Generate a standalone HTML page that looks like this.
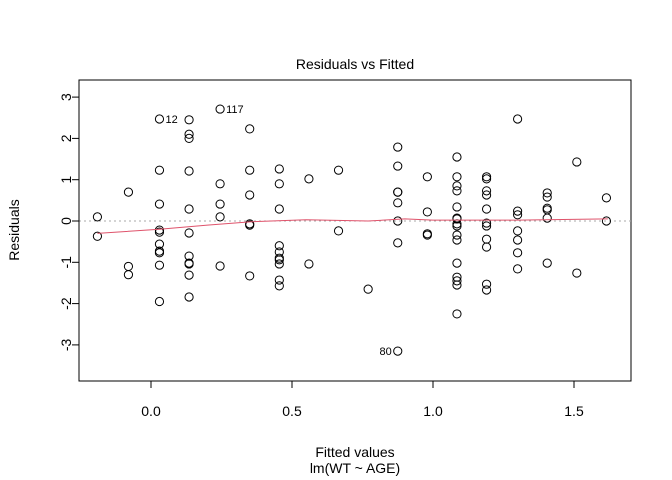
<!DOCTYPE html>
<html><head><meta charset="utf-8"><style>body{margin:0;background:#fff}svg{display:block;font-family:"Liberation Sans",sans-serif}</style></head>
<body>
<svg id="chart" width="672" height="480" viewBox="0 0 672 480">
<rect x="0" y="0" width="672" height="480" fill="#fff"/>
<text x="355" y="69" font-size="14" text-anchor="middle">Residuals vs Fitted</text>
<rect x="79" y="80" width="552" height="301" fill="none" stroke="#000"/>
<line x1="79" x2="631" y1="221" y2="221" stroke="#aaa" stroke-dasharray="2,3"/>
<g id="axes"></g>
<g id="points"></g>
<path id="smooth" fill="none" stroke="#DF536B" stroke-width="1"/>
<text x="355" y="457" font-size="14" text-anchor="middle">Fitted values</text>
<text x="355" y="473" font-size="14" text-anchor="middle">lm(WT ~ AGE)</text>
<text transform="translate(19,230) rotate(-90)" font-size="14" text-anchor="middle">Residuals</text>
</svg>
<script>
const fittedGroups = [-0.19,-0.08,0.03,0.135,0.245,0.35,0.455,0.56,0.665,0.77,0.875,0.98,1.085,1.19,1.3,1.405,1.51,1.615];
const residualGroups = [
 [0.1,-0.37],
 [0.7,-1.1,-1.3],
 [2.47,1.23,0.41,-0.22,-0.27,-0.56,-0.73,-0.77,-1.07,-1.95],
 [2.45,2.1,2.0,1.21,0.29,-0.29,-0.85,-1.02,-1.04,-1.31,-1.84],
 [2.71,0.9,0.41,0.1,-1.09],
 [2.23,1.23,0.63,-0.07,-0.1,-1.33],
 [1.26,0.9,0.29,-0.6,-0.75,-0.9,-0.94,-1.04,-1.43,-1.57],
 [1.02,-1.04],
 [1.23,-0.24],
 [-1.65],
 [1.79,1.33,0.7,0.7,0.44,0.0,-0.53,-3.15],
 [1.07,0.22,-0.31,-0.34],
 [1.55,1.07,0.85,0.73,0.34,0.07,0.05,-0.07,-0.12,-0.34,-0.46,-1.02,-1.36,-1.45,-1.55,-2.25],
 [1.07,1.02,0.73,0.63,0.29,-0.05,-0.12,-0.44,-0.63,-1.53,-1.67],
 [2.47,0.24,0.15,-0.24,-0.46,-0.77,-1.16],
 [0.68,0.58,0.31,0.27,0.07,-1.02],
 [1.43,-1.26],
 [0.56,0.0]
];
const smoothX = [-0.19,0.03,0.2,0.35,0.55,0.77,0.9,1.0,1.3,1.62];
const smoothY = [-0.3,-0.2,-0.1,-0.02,0.03,0.0,0.05,0.02,0.02,0.05];
const labelNames = ["12","117","80"];
const labelX = [0.03,0.245,0.875];
const labelY = [2.47,2.71,-3.15];
const labelSide = [1,1,-1];
const xTicks = [0,0.5,1.0,1.5];
const xTickLabels = ["0.0","0.5","1.0","1.5"];
const yTicks = [-3,-2,-1,0,1,2,3];

const NS="http://www.w3.org/2000/svg";
const sx = v => 151 + v*282;
const sy = v => 221 - v*41.3;
function mk(tag, attrs, parent){const e=document.createElementNS(NS,tag);for(const k in attrs)e.setAttribute(k,attrs[k]);parent.appendChild(e);return e;}
const axes=document.getElementById('axes'), pts=document.getElementById('points');
mk('line',{x1:sx(0),x2:sx(1.5),y1:381,y2:381,stroke:'#000'},axes);
xTicks.forEach((t,i)=>{
 const l=mk('line',{x1:sx(t),x2:sx(t),y1:381,y2:388,stroke:'#000'},axes);
 
 
 const tx=mk('text',{x:sx(t),y:416,'font-size':14,'text-anchor':'middle'},axes);
 tx.textContent=xTickLabels[i];
 
 
});
mk('line',{x1:79,x2:79,y1:sy(-3),y2:sy(3),stroke:'#000'},axes);
yTicks.forEach(t=>{
 const l=mk('line',{x1:72,x2:79,y1:sy(t),y2:sy(t),stroke:'#000'},axes);
 
 
 const tx=mk('text',{transform:`translate(71,${sy(t)}) rotate(-90)`,'font-size':14,'text-anchor':'middle'},axes);
 tx.textContent=String(t);
 
 
});
fittedGroups.forEach((f,i)=>{
 residualGroups[i].forEach(r=>{
  const c=mk('circle',{cx:sx(f),cy:sy(r),r:4.1,fill:'none',stroke:'#000','stroke-width':1},pts);
  
  
 });
});
labelNames.forEach((n,i)=>{
 const tx=mk('text',{x:sx(labelX[i])+labelSide[i]*6,y:sy(labelY[i])+4,'font-size':11,'text-anchor':labelSide[i]>0?'start':'end'},pts);
 tx.textContent=n;
 
 
});
document.getElementById('smooth').setAttribute('d',smoothX.map((x,i)=>(i?'L':'M')+sx(x)+','+sy(smoothY[i])).join(' '));
</script>
</body></html>
